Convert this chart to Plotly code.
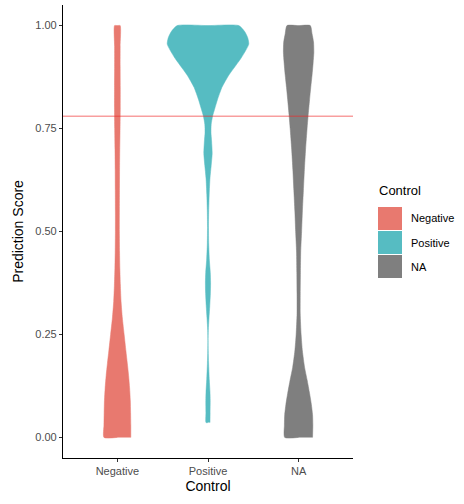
import plotly.graph_objects as go

# ---- data ----
categories = ["Negative", "Positive", "NA"]
colors = ["#E8796F", "#56BCC2", "#7F7F7F"]
threshold = 0.78

neg_score = [0.0, 0.03, 0.06, 0.09, 0.12, 0.15, 0.18, 0.21, 0.25, 0.29, 0.33, 0.37, 0.41, 0.45, 0.50, 0.55, 0.60, 0.65, 0.70, 0.75, 0.80, 0.85, 0.90, 0.95, 1.0]
neg_dens = [13.5, 13.5, 13.3, 13.0, 12.3, 11.3, 10.0, 8.6, 6.8, 5.0, 3.7, 3.0, 2.5, 2.2, 2.0, 2.0, 2.1, 2.2, 2.4, 2.7, 2.9, 2.9, 2.8, 2.8, 2.8]

pos_score = [0.036, 0.06, 0.09, 0.11, 0.14, 0.18, 0.21, 0.235, 0.26, 0.29, 0.32, 0.35, 0.375, 0.40, 0.43, 0.47, 0.51, 0.55, 0.59, 0.63, 0.66, 0.69, 0.72, 0.74, 0.76, 0.78, 0.80, 0.82, 0.85, 0.88, 0.90, 0.92, 0.94, 0.955, 0.97, 0.985, 1.0]
pos_dens = [2.0, 2.1, 2.2, 2.0, 1.3, 0.6, 0.2, 0.05, 0.3, 1.0, 1.8, 2.4, 2.6, 2.3, 1.4, 0.7, 0.5, 0.7, 1.2, 2.0, 3.2, 4.2, 3.6, 3.0, 3.2, 4.6, 7.0, 9.5, 14.0, 21.0, 27.0, 33.0, 38.0, 41.0, 40.0, 37.0, 31.0]

na_score = [0.0, 0.03, 0.055, 0.08, 0.107, 0.14, 0.17, 0.21, 0.25, 0.30, 0.35, 0.40, 0.45, 0.50, 0.55, 0.60, 0.65, 0.70, 0.75, 0.78, 0.82, 0.85, 0.88, 0.91, 0.935, 0.96, 0.98, 1.0]
na_dens = [14.0, 14.3, 14.0, 12.8, 11.0, 8.5, 6.0, 3.8, 2.5, 1.6, 1.6, 1.8, 2.1, 3.0, 3.8, 4.8, 5.8, 7.0, 8.5, 9.5, 11.0, 12.2, 13.5, 14.6, 15.3, 15.0, 13.5, 11.7]

scores = [neg_score, pos_score, na_score]
dens = [neg_dens, pos_dens, na_dens]

# ---- figure ----
fig = go.Figure()
max_d = max(max(d) for d in dens)
half_width = 0.45  # ggplot violin width 0.9, scale="area"
for i, (cat, col, s, d) in enumerate(zip(categories, colors, scores, dens)):
    c = i + 1
    right = [c + v / max_d * half_width for v in d]
    left = [c - v / max_d * half_width for v in d]
    # right side upward, centre of top edge, left side downward, centre of bottom edge
    xs = right + [c] + left[::-1] + [c]
    ys = list(s) + [s[-1]] + list(s)[::-1] + [s[0]]
    fig.add_trace(go.Scatter(x=xs, y=ys, fill="toself", fillcolor=col, mode="lines",
                             line=dict(color=col, width=0.5, shape="spline", smoothing=0.6),
                             name=cat, showlegend=False, hoverinfo="skip"))

fig.add_shape(type="line", xref="paper", x0=0, x1=1, yref="y", y0=threshold, y1=threshold,
              line=dict(color="rgba(240,40,40,0.45)", width=1.6), layer="above")

font_family = "Liberation Sans, Arial, sans-serif"
fig.update_layout(
    width=464, height=504,
    margin=dict(l=63, r=111, t=5, b=46),
    paper_bgcolor="white", plot_bgcolor="white",
    font=dict(family=font_family),
    showlegend=False,
    xaxis=dict(range=[0.4, 3.6], tickvals=[1, 2, 3], ticktext=categories,
               showgrid=False, zeroline=False, showline=True, linecolor="black", linewidth=1.1,
               ticks="outside", ticklen=3, tickcolor="#333333",
               tickfont=dict(size=11, color="#4D4D4D"),
               title=dict(text="Control", font=dict(size=14, color="black"), standoff=4)),
    yaxis=dict(range=[-0.05, 1.05], tickvals=[0, 0.25, 0.5, 0.75, 1.0],
               ticktext=["0.00", "0.25", "0.50", "0.75", "1.00"],
               showgrid=False, zeroline=False, showline=True, linecolor="black", linewidth=1.1,
               ticks="outside", ticklen=3, tickcolor="#333333",
               tickfont=dict(size=11, color="#4D4D4D"),
               title=dict(text="Prediction Score", font=dict(size=14, color="black"), standoff=8)),
)

# ---- manual legend (ggplot style) ----
pw, ph = 290.0, 453.0
def px_x(px):
    return (px - 63) / pw
def px_y(py):
    return (458 - py) / ph

fig.add_annotation(text="Control", xref="paper", yref="paper", x=px_x(377), y=px_y(190),
                   xanchor="left", yanchor="middle", showarrow=False,
                   font=dict(size=13, color="black"))
key_tops = [207, 231, 255]
for cat, col, top in zip(categories, colors, key_tops):
    fig.add_shape(type="rect", xref="paper", yref="paper",
                  x0=px_x(378), x1=px_x(402), y0=px_y(top + 23), y1=px_y(top),
                  fillcolor=col, line=dict(width=0))
    fig.add_annotation(text=cat, xref="paper", yref="paper", x=px_x(409), y=px_y(top + 11.5),
                       xanchor="left", yanchor="middle", showarrow=False,
                       font=dict(size=11, color="black"))

fig.write_html("out.html")
